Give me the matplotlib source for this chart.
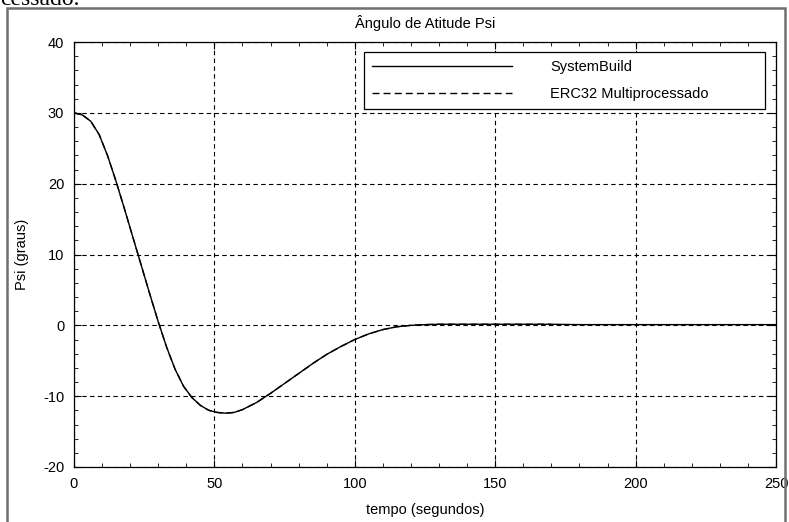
import matplotlib
matplotlib.use('Agg')
import matplotlib.pyplot as plt
from matplotlib.ticker import MultipleLocator, FuncFormatter
from matplotlib.patches import Rectangle

plt.rcParams['font.family'] = ['Liberation Sans Narrow', 'Liberation Sans', 'DejaVu Sans']

# valores
tempo = [0, 3, 6, 9, 12, 15, 18, 21, 24, 27, 30, 33, 36, 39, 42, 45, 48, 51, 54, 57,
         60, 65, 70, 75, 80, 85, 90, 95, 100, 105, 110, 115, 120, 125, 130, 140, 150,
         160, 170, 180, 200, 250]
psi_sb = [30.0, 29.7, 28.8, 26.9, 23.9, 20.3, 16.4, 12.4, 8.4, 4.4, 0.5, -3.1, -6.2,
          -8.6, -10.2, -11.3, -12.0, -12.3, -12.4, -12.3, -11.9, -10.9, -9.6, -8.2,
          -6.8, -5.4, -4.1, -3.0, -2.0, -1.2, -0.6, -0.2, 0.0, 0.1, 0.15, 0.15, 0.15,
          0.15, 0.15, 0.1, 0.1, 0.1]

# ERC32 comeca em zero e so vai ate t = 170 s
t_fim_erc = 170
tempo_erc = [0] + [t for t in tempo if t <= t_fim_erc]
psi_erc = [0.0] + [p for t, p in zip(tempo, psi_sb) if t <= t_fim_erc]

titulo = 'Ângulo de Atitude Psi'
rotulos = ['SystemBuild', 'ERC32 Multiprocessado']

fig = plt.figure(figsize=(7.89, 5.22), dpi=100)
ax = fig.add_axes([74/789, 55/522, 702/789, 425/522])

ax.plot(tempo, psi_sb, color='black', linewidth=1.0, label=rotulos[0])
ax.plot(tempo_erc, psi_erc, color='black', linewidth=1.0, linestyle=(0, (5, 3)),
        label=rotulos[1])

ax.set_xlim(0, 250)
ax.set_ylim(-20, 40)
ax.xaxis.set_major_locator(MultipleLocator(50))
ax.xaxis.set_minor_locator(MultipleLocator(10))
ax.yaxis.set_major_locator(MultipleLocator(10))
ax.yaxis.set_minor_locator(MultipleLocator(2))
ax.yaxis.set_major_formatter(FuncFormatter(lambda v, p: '%d' % v))
ax.tick_params(which='both', direction='in', top=True, right=True, labelsize=10.5)
ax.tick_params(which='major', length=5, pad=7)
ax.tick_params(which='minor', length=3)
ax.grid(True, which='major', color='black', linestyle=(0, (4, 3)), linewidth=0.8)
for s in ax.spines.values():
    s.set_linewidth(0.9)

ax.set_title(titulo, fontsize=10.5, pad=10)
ax.set_xlabel('tempo (segundos)', fontsize=10.5, labelpad=9)
ax.set_ylabel('Psi (graus)', fontsize=10.5, labelpad=10)

leg = ax.legend(loc='upper left', bbox_to_anchor=(0.413, 0.849, 0.571, 0.127),
                mode='expand', fontsize=10.5, handlelength=9.6, handletextpad=2.6,
                labelspacing=0.9, borderpad=0.55, fancybox=False, framealpha=1,
                edgecolor='black', borderaxespad=0)
leg.get_frame().set_linewidth(0.9)

# moldura cinza do documento e texto cortado acima
fig.patches.append(Rectangle((7/789, -0.05), 778/789, 1.05 - 8/522,
                             transform=fig.transFigure, fill=False,
                             edgecolor='#707070', linewidth=1.8))
fig.text(0.0, 1 - 5/522, 'cessado.', family='Liberation Serif', fontsize=17,
         va='baseline', ha='left')

fig.savefig('out.png', dpi=100)
